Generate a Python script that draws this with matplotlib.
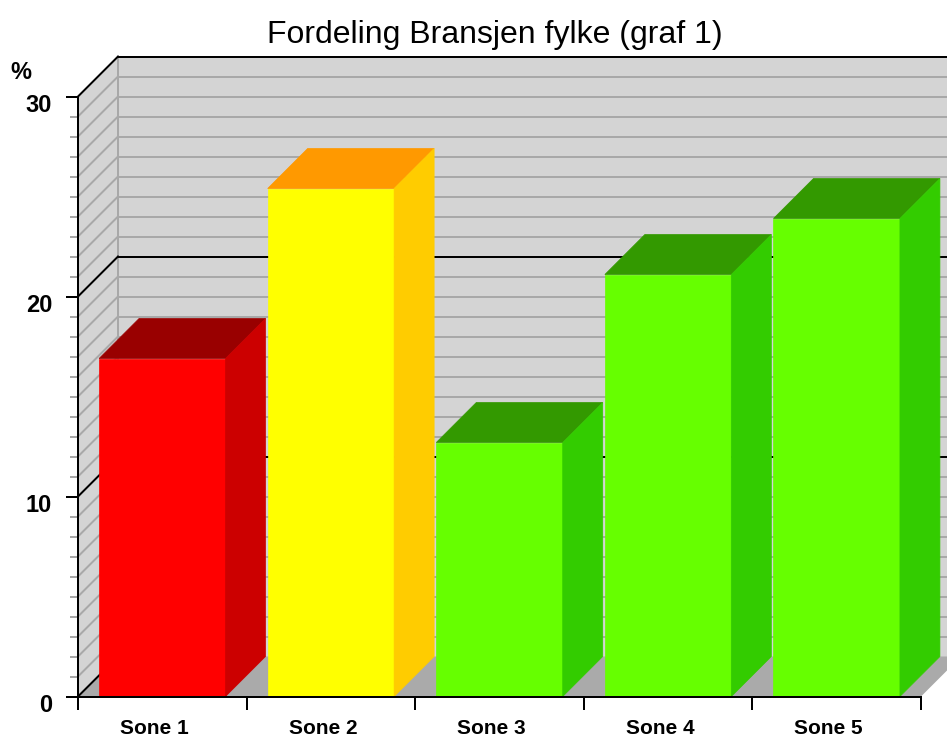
import matplotlib.pyplot as plt
from matplotlib.patches import Polygon

categories = ['Sone 1', 'Sone 2', 'Sone 3', 'Sone 4', 'Sone 5']
values = [16.9, 25.4, 12.7, 21.1, 23.9]
front_colors = ['#ff0000', '#ffff00', '#66ff00', '#66ff00', '#66ff00']
top_colors = ['#990000', '#ff9900', '#339900', '#339900', '#339900']
side_colors = ['#cc0000', '#ffcc00', '#33cc00', '#33cc00', '#33cc00']
y_major = [0, 10, 20, 30]
y_max = 30

plt.rcParams['font.family'] = ['Liberation Sans', 'DejaVu Sans']

# pixel scale of the original: one category slot ~168.6 px, one unit 20 px
slot_px = 168.6
unit_px = 20.0
x0_px, y0_px = 78, 696.5
W, H = 947, 740
dx = 40 / slot_px   # depth offset in x (category units)
dy = 40 / unit_px   # depth offset in y (value units)
n = len(categories)

fig = plt.figure(figsize=(W / 100, H / 100), dpi=100)
ax = fig.add_axes([0, 0, 1, 1])
ax.set_xlim(-x0_px / slot_px, (W - x0_px) / slot_px)
ax.set_ylim(-(H - y0_px) / unit_px, y0_px / unit_px)
ax.axis('off')

wall = '#d4d4d4'
grid = '#a8a8a8'
px = 0.72  # one pixel in points

# back wall, left wall, floor
ax.add_patch(Polygon([(dx, dy), (n + dx, dy), (n + dx, y_max + dy), (dx, y_max + dy)],
                     closed=True, fc=wall, ec='none', zorder=1))
ax.add_patch(Polygon([(0, 0), (dx, dy), (dx, y_max + dy), (0, y_max)],
                     closed=True, fc=wall, ec='none', zorder=1))
ax.add_patch(Polygon([(0, 0), (n, 0), (n + dx, dy), (dx, dy)],
                     closed=True, fc='#aaaaaa', ec='none', zorder=1))

# gridlines on walls
for v in range(0, y_max + 1):
    major = v in y_major
    c = 'black' if major else grid
    z = 3 if major else 2
    if v > 0:
        ax.plot([dx, n + dx], [v + dy, v + dy], color=c, lw=2 * px, zorder=z,
                solid_capstyle='butt')
    ax.plot([0, dx], [v, v + dy], color=c, lw=2 * px, zorder=z)
    # ticks on the front axis
    tick_len = 12 if major else 8
    ax.plot([-tick_len / slot_px, 0], [v, v], color=c, lw=2 * px, zorder=6,
            solid_capstyle='butt')
ax.plot([0, n], [0, 0], color='black', lw=2 * px, zorder=3)
ax.plot([n + dx, n + dx + 1], [dy, dy], color='black', lw=2 * px, zorder=3)
ax.plot([dx, dx], [dy, y_max + dy], color=grid, lw=2 * px, zorder=2)

# bars
bw = 0.75
for i, v in enumerate(values):
    x = i + (1 - bw) / 2
    ax.add_patch(Polygon([(x, 0), (x + bw, 0), (x + bw, v), (x, v)], closed=True,
                         fc=front_colors[i], ec=front_colors[i], lw=0.5, zorder=5))
    ax.add_patch(Polygon([(x, v), (x + dx, v + dy), (x + bw + dx, v + dy), (x + bw, v)],
                         closed=True, fc=top_colors[i], ec=top_colors[i], lw=0.5, zorder=5))
    ax.add_patch(Polygon([(x + bw, 0), (x + bw + dx, dy), (x + bw + dx, v + dy), (x + bw, v)],
                         closed=True, fc=side_colors[i], ec=side_colors[i], lw=0.5, zorder=5))

# axes lines
ax.plot([0, 0], [-12 / unit_px, y_max], color='black', lw=2 * px, zorder=6)
ax.plot([0, n], [0, 0], color='black', lw=2 * px, zorder=6)
for i in range(n + 1):
    ax.plot([i, i], [0, -12 / unit_px], color='black', lw=2 * px, zorder=6)

# labels
for v in y_major:
    ax.text(-26 / slot_px, v - 0.45, str(v), ha='right', va='center',
            fontsize=17, fontweight='bold', zorder=7)
ax.text(-57 / slot_px, 31.2, '%', ha='center', va='center', fontsize=17,
        fontweight='bold', zorder=7)
for i, c in enumerate(categories):
    ax.text(i + 0.5 - 8 / slot_px, -1.6, c, ha='center', va='center',
            fontsize=15, fontweight='bold', zorder=7)

fig.text(495 / W, 1 - 43 / H, 'Fordeling Bransjen fylke (graf 1)', ha='center',
         va='baseline', fontsize=23)

fig.savefig('out.png', dpi=100)
